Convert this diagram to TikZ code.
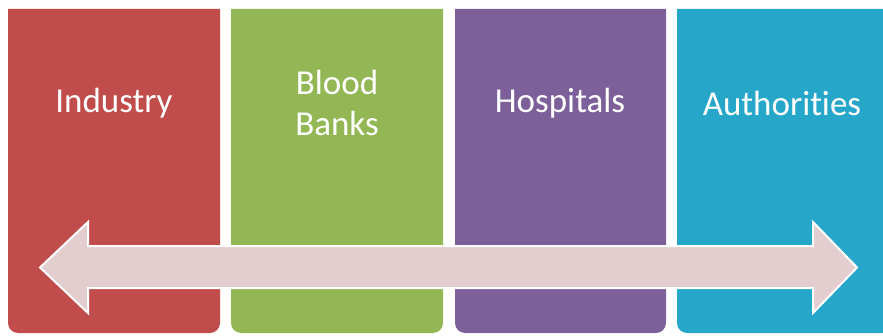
\documentclass[tikz,border=0pt]{standalone}
\usepackage{fontspec}
\setmainfont{Carlito}[Ligatures=NoCommon]
\usepackage{xcolor}
\usepackage{tikz}
\usetikzlibrary{positioning}
\definecolor{industryred}{HTML}{C04D4B}
\definecolor{bloodgreen}{HTML}{93B755}
\definecolor{hospitalpurple}{HTML}{7D609A}
\definecolor{authorityteal}{HTML}{26A6C9}
\definecolor{arrowpink}{HTML}{E3CDCF}

\begin{document}
\begin{tikzpicture}[x=1pt,y=1pt,
    colname/.style={text=white, font=\fontsize{35}{41}\selectfont, align=center, inner sep=0pt}]
    \useasboundingbox (0,0) rectangle (883,335);
    \fill[industryred] (8,326) [rounded corners=10pt] -- (8,2) -- (220,2) [sharp corners] -- (220,326) -- cycle;
    \fill[bloodgreen] (231,326) [rounded corners=10pt] -- (231,2) -- (443,2) [sharp corners] -- (443,326) -- cycle;
    \fill[hospitalpurple] (455,326) [rounded corners=10pt] -- (455,2) -- (666,2) [sharp corners] -- (666,326) -- cycle;
    \fill[authorityteal] (677,326) [rounded corners=10pt] -- (677,2) -- (892,2) [sharp corners] -- (892,326) -- cycle;

    \node[colname] (industry) at (114,232) {Industry};
    \node[colname] (blood) at (337,232) {Blood\\Banks};
    \node[colname] (hospitals) at (560,232) {Hospitals};
    \node[colname] (authorities) at (782,232) {Authorities};

    \draw[white, line width=2pt, fill=arrowpink, line join=miter]
        (40,67.5) -- (88,113) -- (88,89) -- (813,89) -- (813,113) -- (857,67.5)
        -- (813,22) -- (813,47) -- (88,47) -- (88,22) -- cycle;
\end{tikzpicture}
\end{document}
